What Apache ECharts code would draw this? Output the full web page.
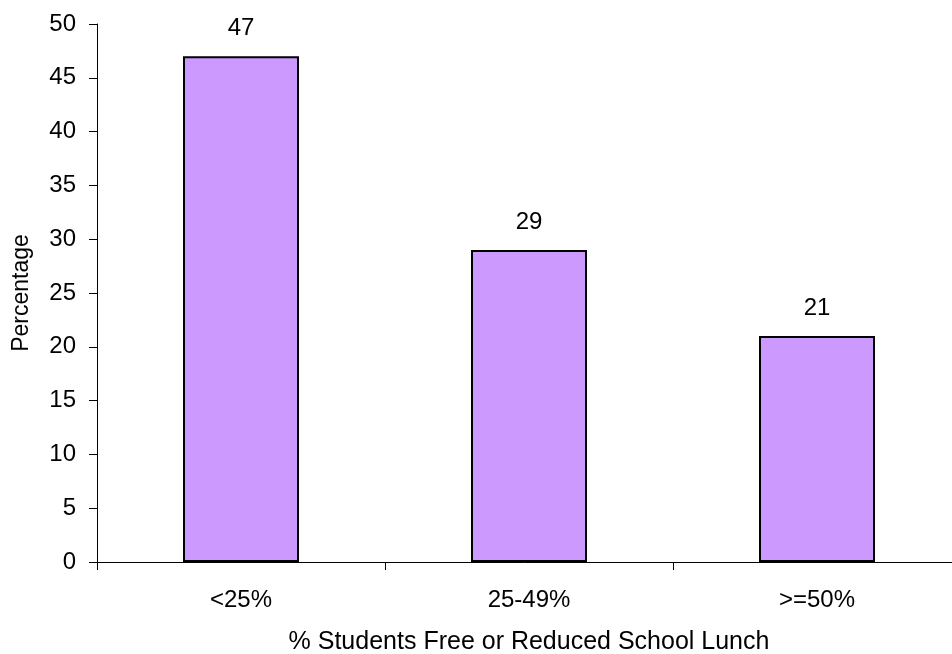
<!DOCTYPE html>
<html><head><meta charset="utf-8">
<script src="https://cdn.jsdelivr.net/npm/echarts@6/dist/echarts.min.js"></script>
<style>html,body{margin:0;padding:0;background:#fff}#c{width:952px;height:654px}</style>
</head><body><div id="c"></div>
<script>
const categories = ['<25%', '25-49%', '>=50%'];
const values = [47, 29, 21];
const xName = '% Students Free or Reduced School Lunch';
const yName = 'Percentage';

const chart = echarts.init(document.getElementById('c'), null, {renderer: 'canvas'});
const font = 'Arial, "Liberation Sans", sans-serif';
chart.setOption({
  animation: false,
  textStyle: {fontFamily: font},
  grid: {left: 97, top: 24, right: -9, bottom: 92, containLabel: false, outerBoundsMode: 'none'},
  xAxis: {
    type: 'category', data: categories,
    name: xName, nameLocation: 'middle', nameGap: 68,
    nameTextStyle: {fontSize: 25, color: '#000', fontFamily: font},
    axisLine: {lineStyle: {color: '#000', width: 1}},
    axisTick: {show: true, length: 8, lineStyle: {color: '#000'}},
    axisLabel: {fontSize: 24, color: '#000', margin: 26, fontFamily: font},
    splitLine: {show: false}
  },
  yAxis: {
    type: 'value', min: 0, max: 50, interval: 5,
    name: yName, nameLocation: 'middle', nameGap: 64,
    nameTextStyle: {fontSize: 23, color: '#000', fontFamily: font},
    axisLine: {show: true, lineStyle: {color: '#000', width: 1}},
    axisTick: {show: true, length: 8, lineStyle: {color: '#000'}},
    axisLabel: {fontSize: 24, color: '#000', margin: 21, fontFamily: font},
    splitLine: {show: false}
  },
  series: [{
    type: 'bar', data: values, barWidth: 116,
    itemStyle: {color: '#CC99FF', borderColor: '#000', borderWidth: 2},
    label: {show: true, position: 'top', distance: 16, fontSize: 24, color: '#000', fontFamily: font}
  }]
});
</script></body></html>
